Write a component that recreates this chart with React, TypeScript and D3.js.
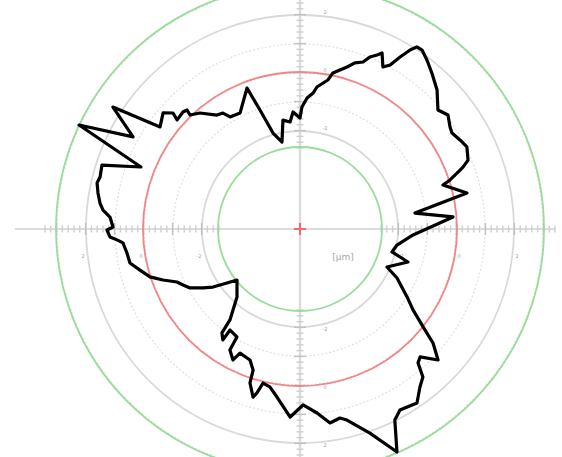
import React from "react";
import * as d3 from "d3";

const W = 562;
const H = 457;

// Roundness profile: angle (deg, counter-clockwise from 3 o'clock) and radius
const profileAngle = [
  90, 89.1, 86.9, 84.5, 83.2, 81.0, 79.4, 78.1, 75.9, 73.8, 71.7, 69.3, 67.9, 66.1, 65.0,
  62.9, 61.2, 59.8, 58.4, 57.3, 55.7, 53.1, 49.8, 45.4, 40.8, 37.6, 34.2, 32.3, 29.1, 26.2,
  22.3, 20.8, 19.6, 18.1, 17.1, 12.2, 7.9, 4.5, -3.0, -9.4, -14.0, -17.0, -23.6, -26.8, -32.4,
  -35.6, -38.5, -40.6, -43.5, -46.8, -48.6, -50.3, -52.8, -56.1, -61.1, -63.6, -66.5, -67.6, -71.1, -76.2,
  -78.1, -81.2, -84.7, -89.0, -93.0, -97.8, -100.8, -103.5, -104.7, -105.6, -108.0, -108.4, -110.9, -115.8, -117.1,
  -120.1, -120.3, -124.7, -124.8, -126.9, -127.6, -129.6, -132.8, -141.0, -143.5, -146.3, -148.7, -151.8, -154.4, -156.7,
  -159.6, -162.3, -165.6, -168.7, -172.1, -175.5, -176.6, -177.6, -179.7, -180.6, -183.6, -185.5, -187.4, -190.1, -192.8,
  -194.6, -197.9, -201.3, -205.2, -208.9, -213.1, -216.1, -220.3, -222.4, -221.6, -225.0, -226.5, -226.0, -229.2, -233.9,
  -236.4, -238.0, -242.7, -249.4, -251.4, -254.3, -258.3, -261.1, -264.7, -266.6,
];
const profileRadius = [
  111, 122, 131.2, 136.6, 143, 147.8, 151.6, 159.5, 164, 168.7, 174.9, 178.5, 185.7, 190.3, 194.2,
  182, 187.1, 199, 210.1, 216.4, 216.6, 211.4, 204.3, 195.2, 182.2, 186.8, 181.4, 179.8, 183.1, 186,
  181.6, 174.4, 166.7, 157.8, 149.6, 170.8, 116.1, 153.5, 113.2, 98.3, 94.8, 112.9, 94.9, 108.7, 126.8,
  139.0, 157.3, 175.2, 190.3, 175.5, 178.5, 192.4, 198.4, 209.7, 206.8, 213.3, 243.2, 235.8, 215.7, 196.7,
  193.2, 196.3, 184.8, 176.0, 188.3, 169.6, 160.8, 158.4, 169.5, 174.5, 161.9, 148.6, 140.2, 137.8, 147.1,
  139.8, 125.0, 122.9, 135.1, 130.0, 114.8, 105.1, 92.7, 81.1, 90.8, 104.6, 113.5, 124.8, 129.7, 133.9,
  146.2, 157.5, 165.2, 173.4, 174.7, 177.6, 183.3, 190.2, 193, 187, 190.4, 197.9, 201.7, 205.2, 208.1,
  206.6, 208.1, 170.7, 244.2, 190.7, 223.3, 173.2, 179.5, 172.0, 164.3, 165.5, 164.1, 158.4, 153.2, 141.0,
  139.2, 132.1, 130.6, 150.6, 125.5, 99.7, 88.8, 110.3, 107.5, 117.2,
];

// Grid rings
const solidRings = [98, 214];
const dottedRings = [127, 156, 185, 243];
const ringStep = 29;
// Reference circles
const minCircle = 82;
const meanCircle = 157;
const maxCircle = 244;
// Ring labels
const labelRadii = [98, 156, 214];
const labelTexts = ["-2", "0", "2"];

export default function App() {
  const cx = 300;
  const cy = 229;
  const r = d3.scaleLinear().domain([0, 250]).range([0, 250]);

  const line = d3
    .lineRadial<number>()
    .angle((_, i) => ((90 - profileAngle[i]) * Math.PI) / 180)
    .radius((_, i) => r(profileRadius[i]))
    .curve(d3.curveLinearClosed);

  const tickVals = d3.range(minCircle - 1, 256, ringStep / 5);
  const isMajor = (v: number) =>
    Math.abs(((v - solidRings[0]) / ringStep) - Math.round((v - solidRings[0]) / ringStep)) < 0.05;

  const axisColor = "#dcdcdc";
  const tickColor = "#cfcfcf";

  return (
    <svg
      width={W}
      height={H}
      style={{ position: "absolute", left: 0, top: 0, background: "#fff" }}
      fontFamily="DejaVu Sans, sans-serif"
    >
      <g transform={`translate(${cx},${cy})`}>
        {/* axes */}
        <line x1={-285} x2={255} y1={0} y2={0} stroke={axisColor} strokeWidth={2} />
        <line x1={0} x2={0} y1={-cy} y2={H - cy} stroke={axisColor} strokeWidth={2.5} />

        {/* rings */}
        {dottedRings.map((v) => (
          <circle key={"d" + v} r={r(v)} fill="none" stroke="#e0e0e0" strokeWidth={1.2} strokeDasharray="2,2" />
        ))}
        {solidRings.map((v) => (
          <circle key={"s" + v} r={r(v)} fill="none" stroke="#d9d9d9" strokeWidth={1.8} />
        ))}

        {/* ticks on axes */}
        {tickVals.map((v, i) => {
          const len = isMajor(v) ? 6 : 3.5;
          const rr = r(v);
          return (
            <g key={"t" + i} stroke={isMajor(v) ? "#c0c0c0" : tickColor} strokeWidth={1.4}>
              <line x1={rr} x2={rr} y1={-len} y2={len} />
              <line x1={-rr} x2={-rr} y1={-len} y2={len} />
              <line y1={rr} y2={rr} x1={-len} x2={len} />
              <line y1={-rr} y2={-rr} x1={-len} x2={len} />
            </g>
          );
        })}

        {/* labels */}
        {labelRadii.map((v, i) => (
          <g key={"l" + i} fill="#9aa6b8" fontSize={5} textAnchor="middle">
            <text x={r(v) + 3} y={29}>{labelTexts[i]}</text>
            <text x={-r(v) - 3} y={29}>{labelTexts[i]}</text>
            <text x={25} y={r(v) + 4}>{labelTexts[i]}</text>
            <text x={25} y={-r(v) - 1}>{labelTexts[i]}</text>
          </g>
        ))}
        <text x={43} y={31} fontSize={9} fill="#a8a8a8" textAnchor="middle">[μm]</text>

        {/* reference circles */}
        <circle r={r(minCircle)} fill="none" stroke="#9adc9a" strokeWidth={1.8} />
        <circle r={r(maxCircle)} fill="none" stroke="#9adc9a" strokeWidth={1.8} />
        <circle r={r(meanCircle)} fill="none" stroke="#f28585" strokeWidth={1.8} />

        {/* center cross */}
        <line x1={-6} x2={6} y1={0} y2={0} stroke="#f06a6a" strokeWidth={2} />
        <line x1={0} x2={0} y1={-6} y2={6} stroke="#f06a6a" strokeWidth={2} />

        {/* profile */}
        <path
          d={line(profileAngle) || ""}
          fill="none"
          stroke="#000"
          strokeWidth={3.2}
          strokeLinejoin="round"
        />
      </g>
    </svg>
  );
}
